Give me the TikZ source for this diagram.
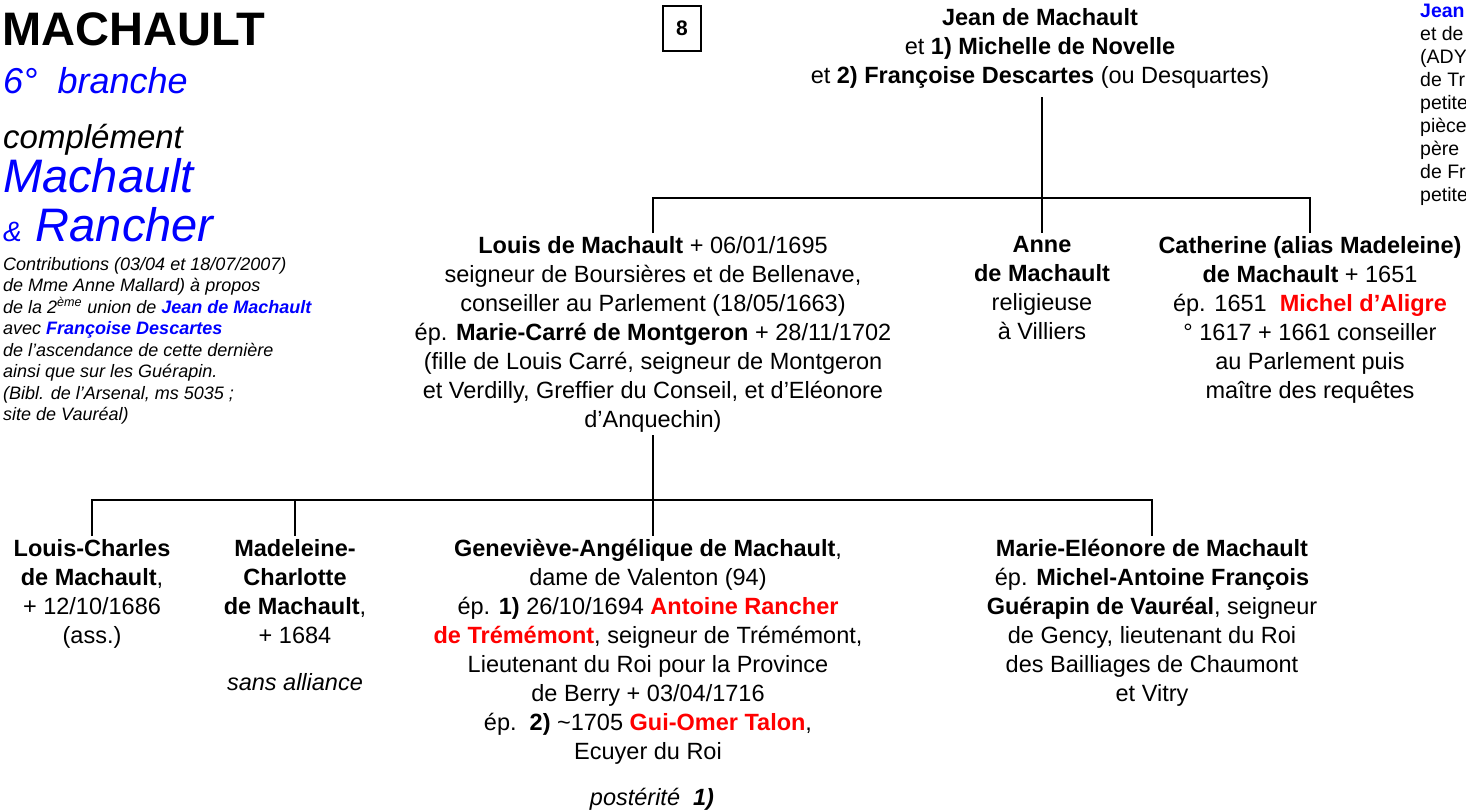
\documentclass[tikz,border=0pt]{standalone}
\usepackage{fontspec}
\setmainfont{Liberation Sans}
\usepackage{tikz}
\definecolor{famblue}{RGB}{0,0,255}
\definecolor{famred}{RGB}{255,0,0}
\def\famtext{\fontsize{23.5}{29}\selectfont}
\def\famnote{\fontsize{18}{21.5}\selectfont}
\tikzset{
	person/.style={align=center, inner xsep=0pt, inner ysep=3pt, anchor=north, font=\famtext},
	branch/.style={line width=2pt}
}

\begin{document}
\begin{tikzpicture}[x=1pt, y=-1pt]
			%%%%% START %%%%%
			\useasboundingbox (0, 0) rectangle (1466, 811);
			
			\node[anchor=base west, inner sep=0pt, font=\fontsize{47}{50}\selectfont\bfseries] (title) at (2, 45) {MACHAULT};
			\node[anchor=base west, inner sep=0pt, font=\fontsize{36}{40}\selectfont\itshape, color=famblue] (branche) at (3, 93) {6°\ \ branche};
			\node[anchor=base west, inner sep=0pt, font=\fontsize{33}{36}\selectfont\itshape] (compl) at (3, 148) {complément};
			\node[anchor=base west, inner sep=0pt, font=\fontsize{47}{50}\selectfont\itshape, color=famblue] (machault) at (3, 192) {Machault};
			\node[anchor=base west, inner sep=0pt, font=\itshape, color=famblue] (rancher) at (3, 241) {{\fontsize{28}{30}\selectfont\&}\hspace{14pt}{\fontsize{47}{50}\selectfont Rancher}};
			
			\node[anchor=north west, align=left, inner sep=0pt, font=\famnote\itshape] (contrib) at (3, 257) {Contributions (03/04 et 18/07/2007)\\
				de Mme Anne Mallard) à propos\\
				de la 2\textsuperscript{ème} union de \textcolor{famblue}{\textbf{Jean de Machault}}\\
				avec \textcolor{famblue}{\textbf{Françoise Descartes}}\\
				de l’ascendance de cette dernière\\
				ainsi que sur les Guérapin.\\
				(Bibl. de l’Arsenal, ms 5035 ;\\
				site de Vauréal)};
			
			\node[draw, line width=1.5pt, minimum width=38pt, minimum height=45pt, font=\fontsize{21}{24}\selectfont\bfseries] (boxnr) at (682, 28.5) {8};
			
			\node[anchor=north west, align=left, inner sep=0pt, font=\fontsize{19.5}{23}\selectfont] (margin) at (1420, 4) {\textcolor{famblue}{\textbf{Jean}}\\
				et de\\ (ADY\\ de Tr\\ petite\\ pièce\\ père\\ de Fr\\ petite};
			
			% first generation
			\node[person] (jean) at (1040, 5) {\textbf{Jean de Machault}\\
				et \textbf{1) Michelle de Novelle}\\
				et \textbf{2) Françoise Descartes} (ou Desquartes)};
			
			\node[person] (louis) at (653, 233) {\textbf{Louis de Machault} + 06/01/1695\\
				seigneur de Boursières et de Bellenave,\\
				conseiller au Parlement (18/05/1663)\\
				ép. \textbf{Marie-Carré de Montgeron} + 28/11/1702\\
				(fille de Louis Carré, seigneur de Montgeron\\
				et Verdilly, Greffier du Conseil, et d’Eléonore\\
				d’Anquechin)};
			\node[person] (anne) at (1042, 233) {\textbf{Anne}\\ \textbf{de Machault}\\ religieuse\\ à Villiers};
			\node[person] (catherine) at (1310, 233) {\textbf{Catherine (alias Madeleine)}\\
				\textbf{de Machault} + 1651\\
				ép. 1651\ \ \textcolor{famred}{\textbf{Michel d’Aligre}}\\
				° 1617 + 1661 conseiller\\
				au Parlement puis\\
				maître des requêtes};
			
			% second generation
			\node[person] (lcharles) at (92, 536) {\textbf{Louis-Charles}\\ \textbf{de Machault},\\ + 12/10/1686\\ (ass.)};
			\node[person] (madeleine) at (295, 536) {\textbf{Madeleine-}\\ \textbf{Charlotte}\\ \textbf{de Machault},\\ + 1684};
			\node[person, font=\famtext\itshape] (sansall) at (295, 670) {sans alliance};
			\node[person] (gene) at (648, 536) {\textbf{Geneviève-Angélique de Machault},\\
				dame de Valenton (94)\\
				ép. \textbf{1)} 26/10/1694 \textcolor{famred}{\textbf{Antoine Rancher}}\\
				\textcolor{famred}{\textbf{de Trémémont}}, seigneur de Trémémont,\\
				Lieutenant du Roi pour la Province\\
				de Berry + 03/04/1716\\
				ép.\ \ \textbf{2)} \textasciitilde1705 \textcolor{famred}{\textbf{Gui-Omer Talon}},\\
				Ecuyer du Roi};
			\node[person, font=\famtext\itshape] (posterite) at (652, 785) {postérité\ \ \textbf{1)}};
			\node[person] (marie) at (1152, 536) {\textbf{Marie-Eléonore de Machault}\\
				ép. \textbf{Michel-Antoine François}\\
				\textbf{Guérapin de Vauréal}, seigneur\\
				de Gency, lieutenant du Roi\\
				des Bailliages de Chaumont\\
				et Vitry};
			
			% connectors
			\coordinate (bus1) at (0, 198);
			\coordinate (bus2) at (0, 500);
			\draw[branch] ([yshift=-6pt]jean.south -| anne.north) -- (anne.north);
			\draw[branch] (louis.north) -- (louis.north |- bus1) -| (catherine.north);
			\draw[branch] (louis.south) -- (louis.south |- gene.north);
			\draw[branch] (lcharles.north) -- (lcharles.north |- bus2) -| (marie.north);
			\draw[branch] (madeleine.north) -- (madeleine.north |- bus2);
			
			%%%%% END %%%%%
		\end{tikzpicture}
\end{document}
